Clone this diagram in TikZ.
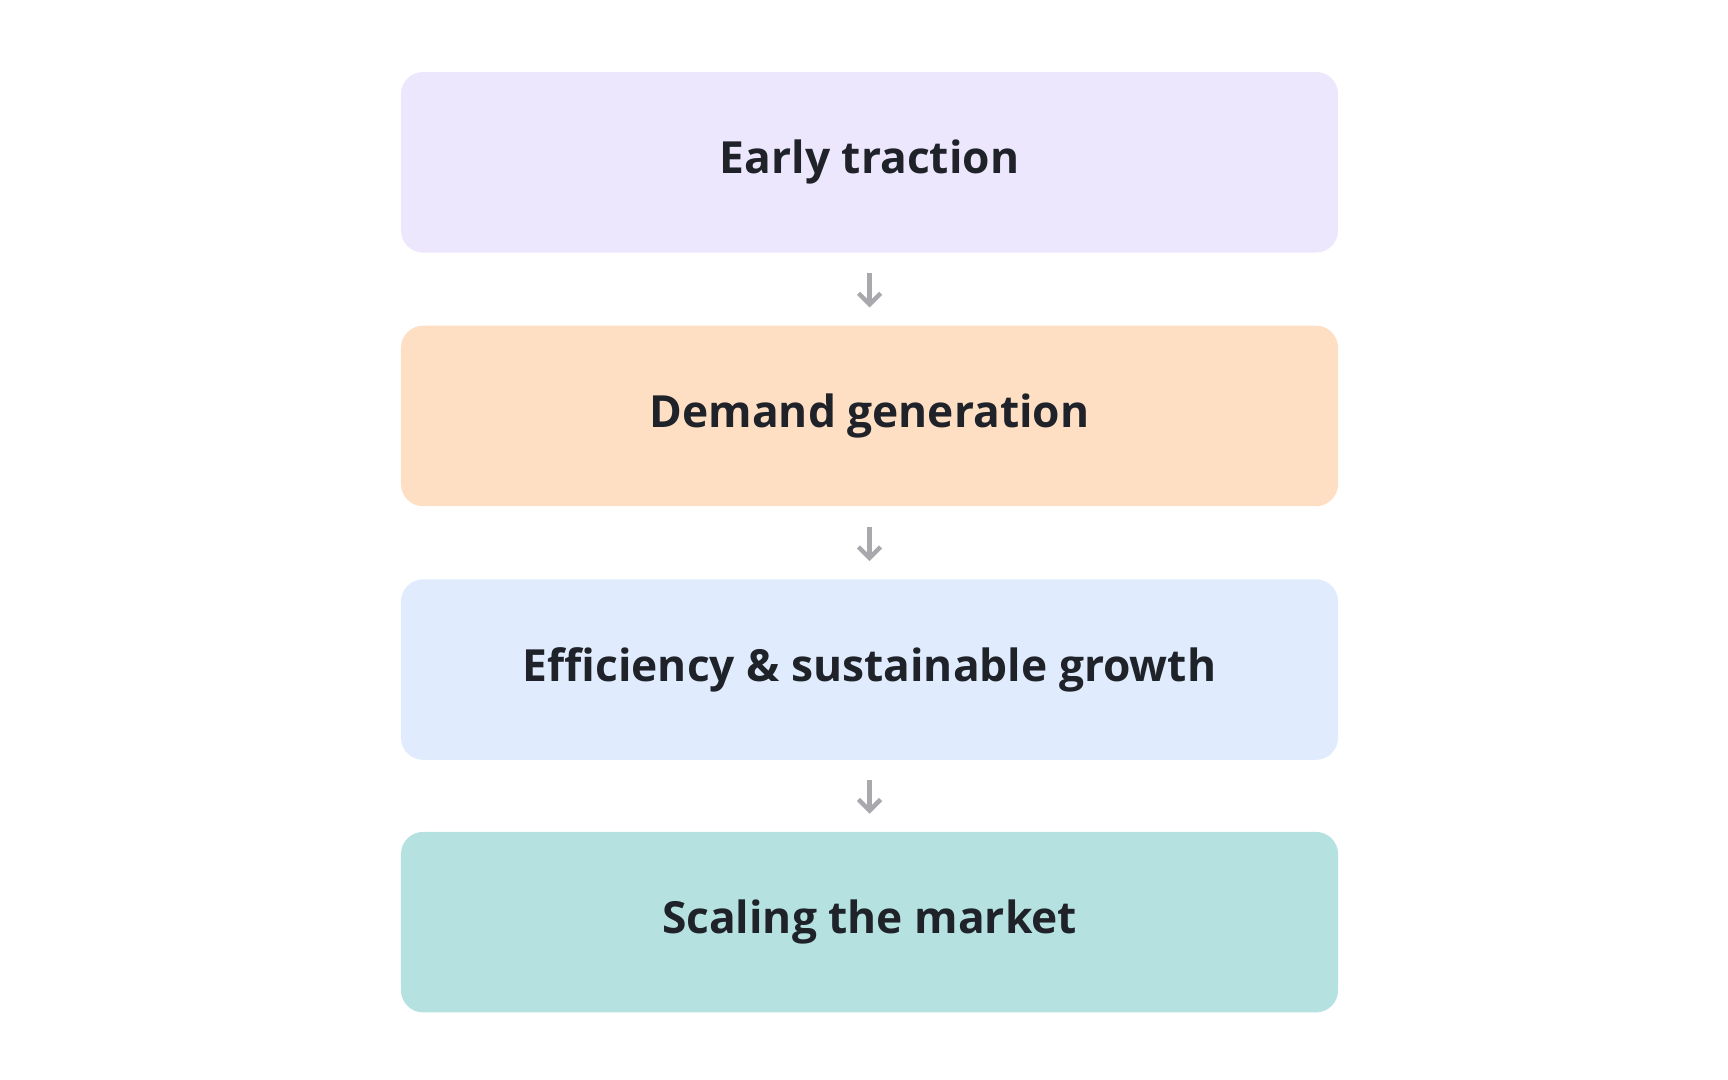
\documentclass[tikz,border=0pt]{standalone}
\usepackage{fontspec}
\setmainfont{Open Sans}
\usetikzlibrary{arrows.meta}
\definecolor{c1}{HTML}{ECE7FD}
\definecolor{c2}{HTML}{FEDFC4}
\definecolor{c3}{HTML}{E0ECFD}
\definecolor{c4}{HTML}{B5E2E1}
\definecolor{tx}{HTML}{1F2329}
\definecolor{ar}{HTML}{A8A8AD}
\begin{document}
\begin{tikzpicture}[x=0.5pt,y=-0.5pt,
  stage/.style={rounded corners=10pt,minimum width=423pt,minimum height=81.5pt,inner sep=0pt,
    font=\fontsize{20}{24}\selectfont\bfseries,text=tx},
  conn/.style={draw=ar,line width=2pt,-{Straight Barb[length=5pt,width=10pt,line width=2pt]}}]
\useasboundingbox (0,0) rectangle (1560,975);
\node[stage,fill=c1] (a) at (785,146.5) {Early traction};
\node[stage,fill=c2] (b) at (785,375.5) {Demand generation};
\node[stage,fill=c3] (c) at (785,604.5) {Efficiency \& sustainable growth};
\node[stage,fill=c4] (d) at (785,832.5) {Scaling the market};
\draw[conn] ([yshift=-9pt]a.south) -- ([yshift=8pt]b.north);
\draw[conn] ([yshift=-9pt]b.south) -- ([yshift=8pt]c.north);
\draw[conn] ([yshift=-9pt]c.south) -- ([yshift=8pt]d.north);
\end{tikzpicture}
\end{document}
